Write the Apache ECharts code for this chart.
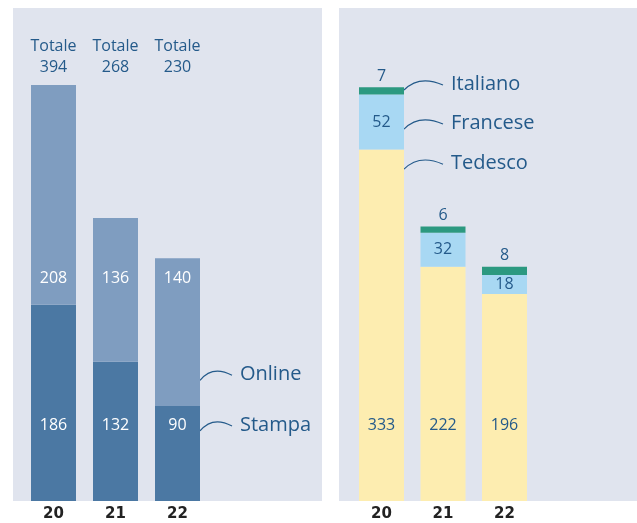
<!DOCTYPE html>
<html>
<head>
<meta charset="utf-8">
<script src="https://cdn.jsdelivr.net/npm/echarts@6/dist/echarts.min.js"></script>
<style>
html, body { margin: 0; padding: 0; background: #fff; }
#chart { width: 637px; height: 523px; }
</style>
</head>
<body>
<div id="chart"></div>
<script>
// anni
var years = ['20', '21', '22'];
// pannello sinistro
var stampa = [186, 132, 90];
var online = [208, 136, 140];
// pannello destro
var tedesco = [333, 222, 196];
var francese = [52, 32, 18];
var italiano = [7, 6, 8];

var totals = stampa.map(function (v, i) { return v + online[i]; });

var textColor = '#245a8a';
var font = 'Open Sans';

var chart = echarts.init(document.getElementById('chart'));

// label a quota fissa (in unita' dei dati) ricavata dal rettangolo della barra
function fixedLevel(level, values, below) {
    return function (params) {
        var r = params.rect;
        var i = params.dataIndex;
        var k = r.height / values[i];
        var base = r.y + r.height + (below ? below[i] : 0) * k;
        return { x: r.x + r.width / 2, y: base - level * k, align: 'center', verticalAlign: 'middle' };
    };
}

function yearAxis(grid) {
    return {
        gridIndex: grid, type: 'category', data: years, position: 'bottom',
        axisLine: { show: false }, axisTick: { show: false },
        axisLabel: { margin: 6, fontFamily: 'DejaVu Sans', fontWeight: 'bold', fontSize: 15, color: '#222' }
    };
}

var option = {
    animation: false,
    grid: [
        { left: 22.5, width: 186, top: 8, bottom: 22 },
        { left: 350.75, width: 184.5, top: 8, bottom: 22 }
    ],
    xAxis: [
        yearAxis(0),
        {
            gridIndex: 0, type: 'category', position: 'top',
            data: totals.map(function (t) { return 'Totale\n' + t; }),
            axisLine: { show: false }, axisTick: { show: false },
            axisLabel: { inside: true, margin: 28, fontFamily: font, fontSize: 16, lineHeight: 21, color: textColor }
        },
        yearAxis(1)
    ],
    yAxis: [
        { gridIndex: 0, type: 'value', min: 0, max: 467, show: false },
        { gridIndex: 1, type: 'value', min: 0, max: 467, show: false }
    ],
    series: [
        {
            name: 'Stampa', type: 'bar', stack: 'l', xAxisIndex: 0, yAxisIndex: 0,
            barWidth: 45, data: stampa, itemStyle: { color: '#4b78a3' },
            label: { show: true, fontFamily: font, fontSize: 16, color: '#fff' },
            labelLayout: fixedLevel(72, stampa)
        },
        {
            name: 'Online', type: 'bar', stack: 'l', xAxisIndex: 0, yAxisIndex: 0,
            barWidth: 45, data: online, itemStyle: { color: '#7f9dc0' },
            label: { show: true, fontFamily: font, fontSize: 16, color: '#fff' },
            labelLayout: fixedLevel(211, online, stampa)
        },
        {
            name: 'Tedesco', type: 'bar', stack: 'r', xAxisIndex: 2, yAxisIndex: 1,
            barWidth: 45, data: tedesco, itemStyle: { color: '#fdedb0' },
            label: { show: true, fontFamily: font, fontSize: 16, color: textColor },
            labelLayout: fixedLevel(72, tedesco)
        },
        {
            name: 'Francese', type: 'bar', stack: 'r', xAxisIndex: 2, yAxisIndex: 1,
            barWidth: 45, data: francese, itemStyle: { color: '#a8d8f3' },
            label: { show: true, fontFamily: font, fontSize: 16, color: textColor }
        },
        {
            name: 'Italiano', type: 'bar', stack: 'r', xAxisIndex: 2, yAxisIndex: 1,
            barWidth: 45, data: italiano, itemStyle: { color: '#2c9980' },
            label: { show: true, position: 'top', distance: 3, fontFamily: font, fontSize: 16, color: textColor }
        }
    ]
};
chart.setOption(option);

// richiami con la curva accanto all'ultima barra (o alla prima a destra)
var callouts = [
    { name: 'Online', grid: 0, idx: 2, level: 120, w: 32 },
    { name: 'Stampa', grid: 0, idx: 2, level: 72, w: 32 },
    { name: 'Italiano', grid: 1, idx: 0, level: 395, w: 39 },
    { name: 'Francese', grid: 1, idx: 0, level: 358, w: 39 },
    { name: 'Tedesco', grid: 1, idx: 0, level: 320, w: 39 }
];

var graphics = [
    { type: 'rect', z: -10, silent: true, shape: { x: 13, y: 8, width: 309, height: 493 }, style: { fill: '#e0e4ee' } },
    { type: 'rect', z: -10, silent: true, shape: { x: 339, y: 8, width: 298, height: 493 }, style: { fill: '#e0e4ee' } }
];
callouts.forEach(function (c) {
    var p = chart.convertToPixel({ gridIndex: c.grid }, [c.idx, c.level]);
    var x0 = p[0] + 22.5;
    var ty = p[1];
    graphics.push({
        type: 'bezierCurve', silent: true,
        shape: { x1: x0, y1: ty + 6, cpx1: x0 + c.w * 0.28, cpy1: ty - 5, cpx2: x0 + c.w * 0.65, cpy2: ty - 5, x2: x0 + c.w, y2: ty + 1 },
        style: { stroke: textColor, lineWidth: 1.2, fill: null }
    });
    graphics.push({
        type: 'text', silent: true, x: x0 + c.w + 8, y: ty,
        style: { text: c.name, fontFamily: font, fontSize: 20, fill: textColor, verticalAlign: 'middle' }
    });
});
chart.setOption({ graphic: graphics });
</script>
</body>
</html>
